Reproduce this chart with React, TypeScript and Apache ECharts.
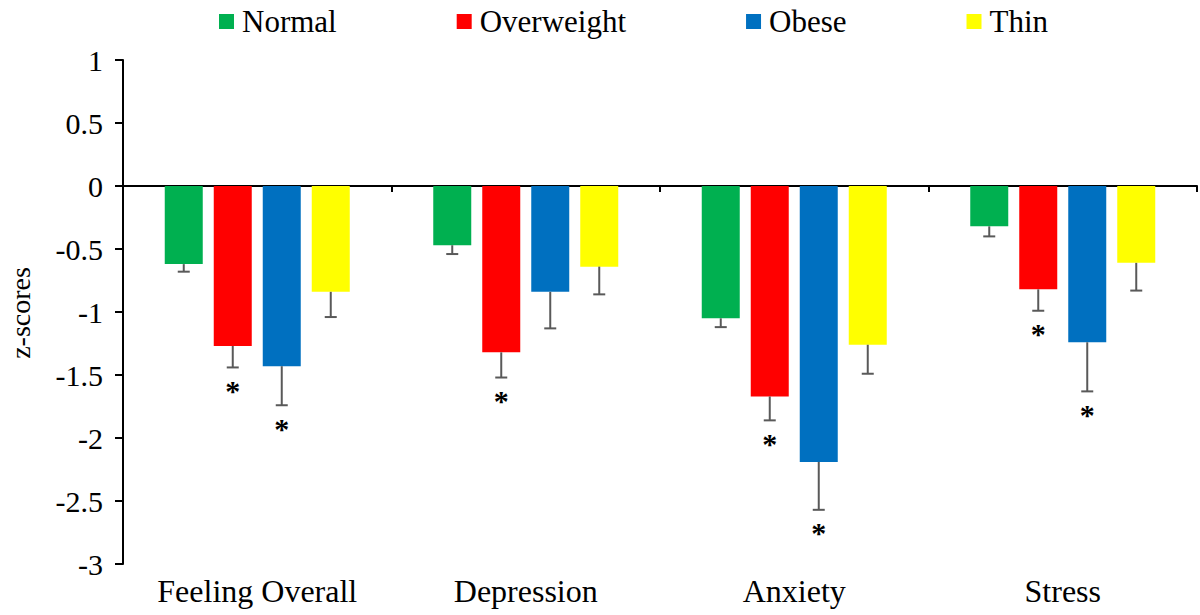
import React, { useEffect, useRef } from "react";
import * as echarts from "echarts";

const categories = ["Feeling Overall", "Depression", "Anxiety", "Stress"];
const groups = ["Normal", "Overweight", "Obese", "Thin"];
const colors = ["#00B050", "#FF0000", "#0070C0", "#FFFF00"];

const normalVals = [-0.62, -0.47, -1.05, -0.32];
const normalErr = [0.06, 0.07, 0.07, 0.08];
const normalSig = [0, 0, 0, 0];

const overweightVals = [-1.27, -1.32, -1.67, -0.82];
const overweightErr = [0.17, 0.2, 0.19, 0.17];
const overweightSig = [1, 1, 1, 1];

const obeseVals = [-1.43, -0.84, -2.19, -1.24];
const obeseErr = [0.31, 0.29, 0.38, 0.39];
const obeseSig = [1, 0, 1, 1];

const thinVals = [-0.84, -0.64, -1.26, -0.61];
const thinErr = [0.2, 0.22, 0.23, 0.22];
const thinSig = [0, 0, 0, 0];

const yTicks = { min: -3, max: 1, interval: 0.5 };

const FONT = "Liberation Serif";
const BAR_W = 38;
const BAR_GAP = 11;

export default function App() {
  const ref = useRef<HTMLDivElement>(null);

  useEffect(() => {
    document.body.style.margin = "0";
    if (!ref.current) return;
    const chart = echarts.init(ref.current, undefined, { renderer: "svg" });

    const vals = [normalVals, overweightVals, obeseVals, thinVals];
    const errs = [normalErr, overweightErr, obeseErr, thinErr];
    const sigs = [normalSig, overweightSig, obeseSig, thinSig];

    const barSeries = groups.map((g, i) => ({
      name: g,
      type: "bar",
      xAxisIndex: 0,
      yAxisIndex: 0,
      data: vals[i],
      barWidth: BAR_W,
      barGap: `${(BAR_GAP / BAR_W) * 100}%`,
      itemStyle: { color: colors[i] },
      z: 2,
    }));

    const errSeries = groups.map((g, i) => {
      const offset = (i - 1.5) * (BAR_W + BAR_GAP);
      return {
        name: g + " error",
        type: "custom",
        xAxisIndex: 0,
        yAxisIndex: 0,
        z: 3,
        data: vals[i].map((v, k) => [k, v, errs[i][k], sigs[i][k]]),
        encode: { x: 0, y: 1 },
        renderItem: (params: any, api: any) => {
          const k = api.value(0);
          const v = api.value(1);
          const e = api.value(2);
          const s = api.value(3);
          const p = api.coord([k, v]);
          const q = api.coord([k, v - e]);
          const x = p[0] + offset;
          const style = { stroke: "#595959", lineWidth: 2 };
          const children: any[] = [
            { type: "line", shape: { x1: x, y1: p[1], x2: x, y2: q[1] }, style },
            { type: "line", shape: { x1: x - 6, y1: q[1], x2: x + 6, y2: q[1] }, style },
          ];
          if (s) {
            children.push({
              type: "text",
              style: {
                text: "*",
                x: x,
                y: q[1] + 8,
                fill: "#000",
                fontSize: 30,
                fontWeight: "bold",
                fontFamily: FONT,
                align: "center",
                verticalAlign: "top",
              },
            });
          }
          return { type: "group", children };
        },
      };
    });

    chart.setOption({
      animation: false,
      textStyle: { fontFamily: FONT },
      legend: {
        data: groups,
        left: 214,
        top: 1,
        itemWidth: 15,
        itemHeight: 15,
        itemGap: 120,
        icon: "rect",
        textStyle: { fontSize: 31, color: "#000", fontFamily: FONT, padding: [0, 0, 0, 3] },
      },
      graphic: [
        {
          type: "text",
          x: 20,
          y: 313,
          rotation: Math.PI / 2,
          style: {
            text: "z-scores",
            fontSize: 28,
            fontFamily: FONT,
            fill: "#000",
            align: "center",
            verticalAlign: "middle",
          },
        },
      ],
      grid: { left: 123, right: 3, top: 60, bottom: 51, containLabel: false },
      xAxis: [
        {
          type: "category",
          data: categories,
          position: "bottom",
          axisLine: { show: true, onZero: true, lineStyle: { color: "#000", width: 2 } },
          axisTick: { show: true, inside: false, length: 6, lineStyle: { color: "#000", width: 2 } },
          axisLabel: { show: false },
          splitLine: { show: false },
        },
        {
          type: "category",
          data: categories,
          position: "bottom",
          axisLine: { show: false, onZero: false },
          axisTick: { show: false },
          axisLabel: { show: true, fontSize: 32, color: "#000", fontFamily: FONT, margin: 11 },
          splitLine: { show: false },
        },
      ],
      yAxis: {
        type: "value",
        min: yTicks.min,
        max: yTicks.max,
        interval: yTicks.interval,
        axisLine: { show: true, lineStyle: { color: "#000", width: 2 } },
        axisTick: { show: true, length: 8, lineStyle: { color: "#000", width: 2 } },
        axisLabel: { fontSize: 30, color: "#000", fontFamily: FONT, margin: 20 },
        splitLine: { show: false },
      },
      series: [...barSeries, ...errSeries],
    });

    return () => chart.dispose();
  }, []);

  return <div ref={ref} style={{ width: 1200, height: 615 }} />;
}
